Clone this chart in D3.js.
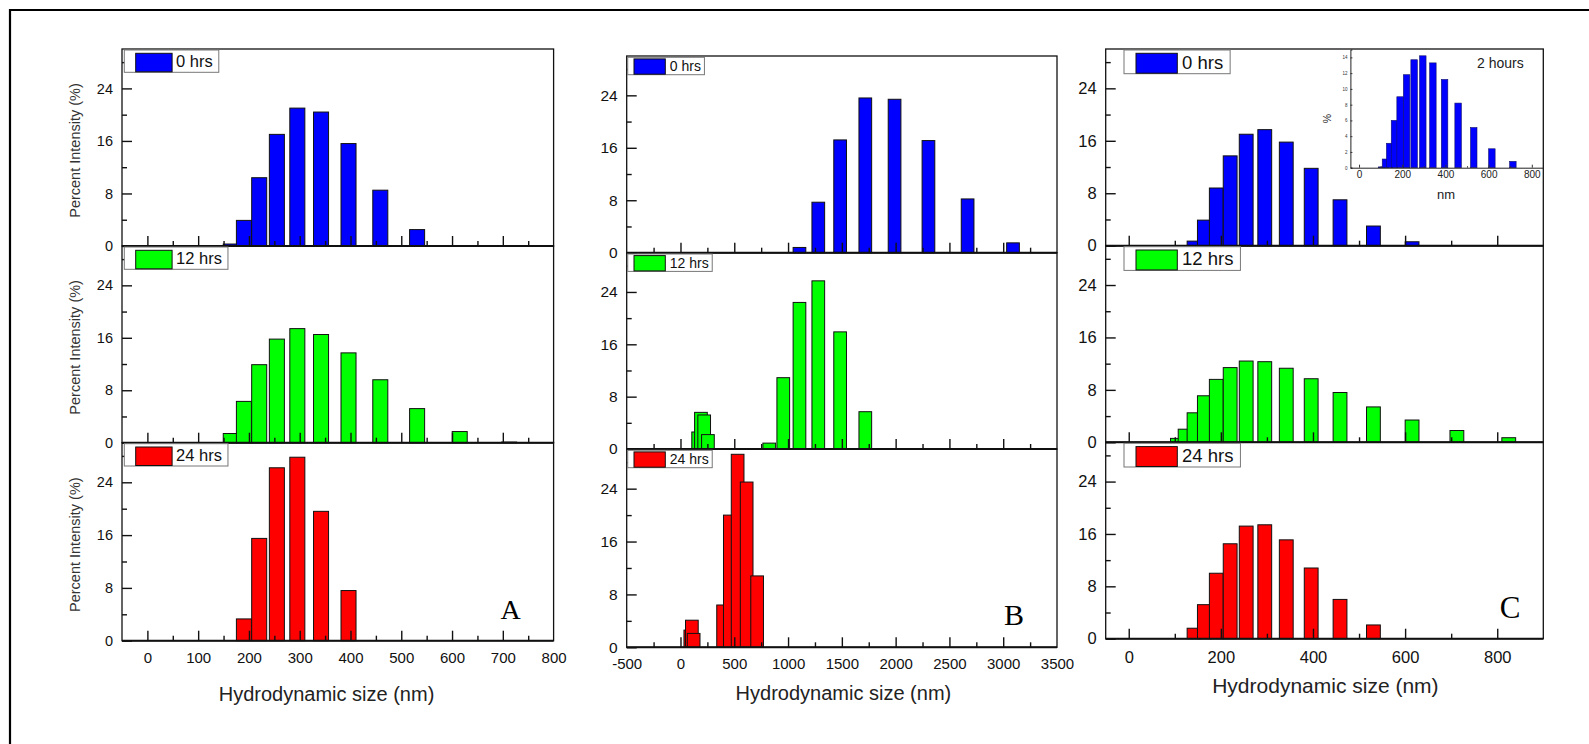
<!DOCTYPE html>
<html>
<head>
<meta charset="utf-8">
<script src="https://cdn.jsdelivr.net/npm/d3@7"></script>
<style>
  body { margin: 0; background: #fff; }
  svg { display: block; }
  text { font-family: Arial, "Liberation Sans", sans-serif; }
  text.letter { font-family: "Liberation Serif", "Times New Roman", serif; }
</style>
</head>
<body>
<svg id="fig" width="1589" height="744"></svg>
<script>
// ---- Intensity distributions (size bin centre in nm, percent intensity) ----
// Panel A
const sizeA0  = [164.2, 190.1, 220.2, 255.0, 295.3, 342.0, 396.1, 458.7, 531.2];
const pctA0   = [0.3, 3.9, 10.4, 17.0, 21.0, 20.4, 15.6, 8.5, 2.5];
const sizeA12 = [164.2, 190.1, 220.2, 255.0, 295.3, 342.0, 396.1, 458.7, 531.2, 615.1, 712.4];
const pctA12  = [1.4, 6.3, 11.9, 15.8, 17.4, 16.5, 13.7, 9.6, 5.2, 1.7, 0.1];
const sizeA24 = [190.1, 220.2, 255.0, 295.3, 342.0, 396.1];
const pctA24  = [3.3, 15.5, 26.2, 27.8, 19.6, 7.6];
// Panel B
const sizeB0  = [1106, 1281, 1484, 1718, 1990, 2305, 2669, 3091];
const pctB0   = [0.8, 7.7, 17.2, 23.6, 23.4, 17.1, 8.2, 1.5];
const sizeB12 = [164.2, 190.1, 220.2, 255.0, 825.0, 955.4, 1106, 1281, 1484, 1718];
const pctB12  = [2.6, 5.6, 5.2, 2.2, 0.9, 10.9, 22.4, 25.7, 17.9, 5.7];
const sizeB24 = [91.28, 105.7, 122.4, 396.1, 458.7, 531.2, 615.1, 712.4];
const pctB24  = [2.6, 4.1, 2.1, 6.4, 20.0, 29.2, 25.0, 10.8];
// Panel C
const sizeC0  = [141.8, 164.2, 190.1, 220.2, 255.0, 295.3, 342.0, 396.1, 458.7, 531.2, 615.1];
const pctC0   = [0.7, 3.9, 8.8, 13.7, 17.0, 17.7, 15.8, 11.8, 7.0, 3.0, 0.6];
const sizeC12 = [105.7, 122.4, 141.8, 164.2, 190.1, 220.2, 255.0, 295.3, 342.0, 396.1, 458.7, 531.2, 615.1, 712.4, 825.0];
const pctC12  = [0.6, 2.0, 4.5, 7.1, 9.6, 11.4, 12.4, 12.3, 11.3, 9.7, 7.6, 5.4, 3.4, 1.8, 0.7];
const sizeC24 = [141.8, 164.2, 190.1, 220.2, 255.0, 295.3, 342.0, 396.1, 458.7, 531.2];
const pctC24  = [1.6, 5.2, 10.0, 14.5, 17.2, 17.4, 15.1, 10.8, 6.0, 2.1];
// Inset (2 hours)
const sizeInset = [105.7, 122.4, 141.8, 164.2, 190.1, 220.2, 255.0, 295.3, 342.0, 396.1, 458.7, 531.2, 615.1, 712.4];
const pctInset  = [0.1, 1.1, 3.1, 6.0, 9.0, 11.8, 13.7, 14.2, 13.3, 11.2, 8.2, 5.1, 2.4, 0.8];

// ---- Ticks and labels ----
const yTicks = [0, 8, 16, 24];
const yMinorTicks = [4, 12, 20, 28];
const ticksA = [0, 100, 200, 300, 400, 500, 600, 700, 800];
const minorA = [50, 150, 250, 350, 450, 550, 650, 750];
const ticksB = [-500, 0, 500, 1000, 1500, 2000, 2500, 3000, 3500];
const minorB = [-250, 250, 750, 1250, 1750, 2250, 2750, 3250];
const ticksC = [0, 200, 400, 600, 800];
const minorC = [100, 300, 500, 700];
const ticksInsetX = [0, 200, 400, 600, 800];
const minorInsetX = [100, 300, 500, 700];
const ticksInsetY = [0, 2, 4, 6, 8, 10, 12, 14];
const legendLabels = ["0 hrs", "12 hrs", "24 hrs"];
const seriesColors = ["#0000ff", "#00ff00", "#ff0000"];
const panelLetters = ["A", "B", "C"];
const xTitle = "Hydrodynamic size (nm)";
const yTitle = "Percent Intensity (%)";

// plain integer labels with an ASCII hyphen for negatives
const plainNum = d => String(d);

const svg = d3.select("#fig");

// figure frame (left and top edges)
svg.append("path").attr("d", "M10,744V10H1589")
  .attr("fill", "none").attr("stroke", "#000").attr("stroke-width", 2.2);

const panels = [
  { x0: 122, x1: 553.6, domain: [-50, 800], ticks: ticksA, minor: minorA,
    rows: [49, 246, 442.7, 640.7], sizes: [sizeA0, sizeA12, sizeA24], pct: [pctA0, pctA12, pctA24],
    barW: 29.6, tickFont: 15, yTickFont: 14.5, xLabOff: 22.8,
    legend: { dx: 2.3, dy: 1, h: 22.3, pad: 11.4, sw: 36.4, swInset: 3.3, gap: 4, font: 16.5, rpad: 6 },
    letter: { x: 510.7, y: 619.3, size: 28 }, title: { x: 326.5, y: 701, size: 20 }, yTitle: true },
  { x0: 626.7, x1: 1057, domain: [-500, 3500], ticks: ticksB, minor: minorB,
    rows: [56, 252.7, 449, 647.3], sizes: [sizeB0, sizeB12, sizeB24], pct: [pctB0, pctB12, pctB24],
    barW: 118, tickFont: 15, yTickFont: 15.5, xLabOff: 21.4,
    legend: { dx: 1, dy: 1.3, h: 17.4, pad: 6.3, sw: 31.3, swInset: 1.6, gap: 4.5, font: 14, rpad: 3.5 },
    letter: { x: 1014, y: 625, size: 30 }, title: { x: 843.4, y: 700, size: 20 }, yTitle: false },
  { x0: 1105.7, x1: 1543.3, domain: [-50, 900], ticks: ticksC, minor: minorC,
    rows: [49, 245.7, 442.3, 638.7], sizes: [sizeC0, sizeC12, sizeC24], pct: [pctC0, pctC12, pctC24],
    barW: 30, tickFont: 16.5, yTickFont: 16.5, xLabOff: 24,
    legend: { dx: 18.3, dy: 1, h: 23.7, pad: 12, sw: 41.3, swInset: 3.3, gap: 4.7, font: 18.5, rpad: 7 },
    letter: { x: 1510, y: 618, size: 31 }, title: { x: 1325.4, y: 693, size: 21 }, yTitle: false }
];

panels.forEach((p, pi) => {
  const g = svg.append("g");
  const x = d3.scaleLinear().domain(p.domain).range([p.x0, p.x1]);

  for (let r = 0; r < 3; r++) {
    const yTop = p.rows[r], yBot = p.rows[r + 1];
    const y = d3.scaleLinear().domain([0, 30]).range([yBot, yTop]);
    const row = g.append("g");

    // bars, later bins drawn over earlier ones
    const data = p.sizes[r].map((s, i) => ({ s, v: p.pct[r][i] }));
    row.append("g").selectAll("rect").data(data).join("rect")
      .attr("x", d => x(d.s - p.barW / 2))
      .attr("width", d => x(d.s + p.barW / 2) - x(d.s - p.barW / 2))
      .attr("y", d => y(d.v))
      .attr("height", d => yBot - y(d.v))
      .attr("fill", seriesColors[r])
      .attr("stroke", "#111").attr("stroke-width", 1);

    // frame
    row.append("rect").attr("x", p.x0).attr("y", yTop)
      .attr("width", p.x1 - p.x0).attr("height", yBot - yTop)
      .attr("fill", "none").attr("stroke", "#111").attr("stroke-width", 1.3);
    row.append("line").attr("x1", p.x0).attr("x2", p.x1).attr("y1", yBot).attr("y2", yBot)
      .attr("stroke", "#111").attr("stroke-width", 2);

    // inward ticks on the left axis
    const yMaj = row.append("g").attr("transform", `translate(${p.x0},0)`)
      .call(d3.axisRight(y).tickValues(yTicks).tickSize(10).tickFormat(""));
    const yMin = row.append("g").attr("transform", `translate(${p.x0},0)`)
      .call(d3.axisRight(y).tickValues(yMinorTicks).tickSize(5).tickFormat(""));
    // y tick labels
    const yLab = row.append("g").attr("transform", `translate(${p.x0},0)`)
      .call(d3.axisLeft(y).tickValues(yTicks).tickSize(0).tickPadding(9).tickFormat(plainNum));
    yLab.selectAll("text").attr("font-size", p.yTickFont).attr("fill", "#111")
      .attr("font-family", null);

    // inward ticks on the bottom axis
    const xMaj = row.append("g").attr("transform", `translate(0,${yBot})`)
      .call(d3.axisTop(x).tickValues(p.ticks.filter(t => t > p.domain[0] && t < p.domain[1])).tickSize(10).tickFormat(""));
    const xMin = row.append("g").attr("transform", `translate(0,${yBot})`)
      .call(d3.axisTop(x).tickValues(p.minor).tickSize(5).tickFormat(""));
    [yMaj, yMin, yLab, xMaj, xMin].forEach(a => {
      a.select(".domain").remove();
      a.selectAll("line").attr("stroke", "#111").attr("stroke-width", 1.4);
    });

    // x tick labels on the lowest row
    if (r === 2) {
      const xLab = row.append("g").attr("transform", `translate(0,${yBot})`)
        .call(d3.axisBottom(x).tickValues(p.ticks).tickSize(0).tickFormat(plainNum));
      xLab.select(".domain").remove();
      xLab.selectAll("text").attr("y", p.xLabOff).attr("dy", null)
        .attr("font-size", p.tickFont).attr("fill", "#111")
        .attr("font-family", null);
    }

    // legend
    const L = p.legend;
    const lg = row.append("g").attr("transform", `translate(${p.x0 + L.dx},${yTop + L.dy})`);
    const box = lg.append("rect").attr("height", L.h)
      .attr("fill", "#fff").attr("stroke", "#777").attr("stroke-width", 1);
    lg.append("rect").attr("x", L.pad).attr("y", L.swInset)
      .attr("width", L.sw).attr("height", L.h - L.swInset - 0.5)
      .attr("fill", seriesColors[r]).attr("stroke", "#111").attr("stroke-width", 1);
    const lt = lg.append("text").attr("x", L.pad + L.sw + L.gap)
      .attr("y", L.h / 2 + L.font * 0.36)
      .attr("font-size", L.font).attr("fill", "#111").text(legendLabels[r]);
    const tw = lt.node().getComputedTextLength();
    box.attr("width", L.pad + L.sw + L.gap + tw + L.rpad);

    if (p.yTitle) {
      const cy = (yTop + yBot) / 2 + 3;
      row.append("text").attr("transform", `translate(75,${cy}) rotate(-90)`)
        .attr("text-anchor", "middle").attr("dy", "0.35em")
        .attr("font-size", 14.5).attr("fill", "#333").text(yTitle);
    }
  }

  // panel letter
  g.append("text").attr("class", "letter")
    .attr("x", p.letter.x).attr("y", p.letter.y)
    .attr("text-anchor", "middle").attr("font-size", p.letter.size)
    .attr("fill", "#000").text(panelLetters[pi]);

  // x-axis title
  g.append("text").attr("x", p.title.x).attr("y", p.title.y)
    .attr("text-anchor", "middle").attr("font-size", p.title.size)
    .attr("fill", "#222").text(xTitle);
});

// ---- Inset: 2 hours distribution ----
const ix = d3.scaleLinear().domain([-40, 850]).range([1350.4, 1542.6]);
const iy = d3.scaleLinear().domain([0, 15]).range([167.7, 49.5]);
const inset = svg.append("g");
inset.append("g").selectAll("rect")
  .data(sizeInset.map((s, i) => ({ s, v: pctInset[i] })))
  .join("rect")
  .attr("x", d => ix(d.s - 15))
  .attr("width", d => ix(d.s + 15) - ix(d.s - 15))
  .attr("y", d => iy(d.v))
  .attr("height", d => iy(0) - iy(d.v))
  .attr("fill", "#0000ff").attr("stroke", "#10106a").attr("stroke-width", 0.6);

const iyAxis = inset.append("g").attr("transform", `translate(${ix.range()[0]},0)`)
  .call(d3.axisLeft(iy).tickValues(ticksInsetY).tickSize(-2).tickPadding(3));
iyAxis.select(".domain").attr("stroke", "#222").attr("stroke-width", 1);
iyAxis.selectAll("line").attr("stroke", "#444");
iyAxis.selectAll("text").attr("font-size", 4.5).attr("fill", "#333")
  .attr("font-family", null);

const ixAxis = inset.append("g").attr("transform", `translate(0,${iy(0)})`)
  .call(d3.axisBottom(ix).tickValues(ticksInsetX).tickSize(0).tickPadding(3));
ixAxis.select(".domain").attr("stroke", "#222").attr("stroke-width", 1);
ixAxis.selectAll("text").attr("y", 10).attr("dy", null)
  .attr("font-size", 10).attr("fill", "#222")
  .attr("font-family", null);
const ixTicks = inset.append("g").attr("transform", `translate(0,${iy(0)})`)
  .call(d3.axisTop(ix).tickValues(ticksInsetX).tickSize(3).tickFormat(""));
ixTicks.select(".domain").remove();
const ixMinor = inset.append("g").attr("transform", `translate(0,${iy(0)})`)
  .call(d3.axisTop(ix).tickValues(minorInsetX).tickSize(1.5).tickFormat(""));
ixMinor.select(".domain").remove();
inset.selectAll("line").attr("stroke", "#333");

inset.append("text").attr("transform", "translate(1327,118.5) rotate(-90)")
  .attr("text-anchor", "middle").attr("dy", "0.35em")
  .attr("font-size", 10.5).attr("fill", "#222").text("%");
inset.append("text").attr("x", 1446).attr("y", 199)
  .attr("text-anchor", "middle").attr("font-size", 13).attr("fill", "#222").text("nm");
inset.append("text").attr("x", 1477).attr("y", 68)
  .attr("font-size", 14).attr("fill", "#222").text("2 hours");
</script>
</body>
</html>
